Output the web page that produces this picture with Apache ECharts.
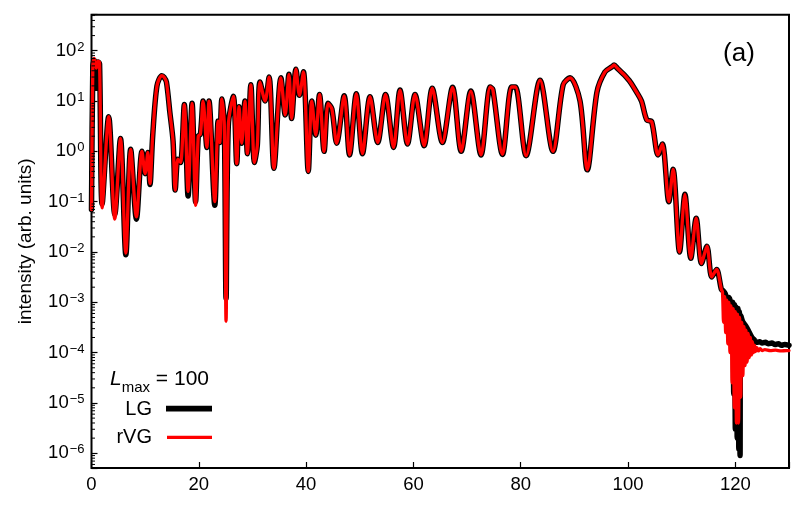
<!DOCTYPE html>
<html>
<head>
<meta charset="utf-8">
<script src="https://cdn.jsdelivr.net/npm/echarts@6/dist/echarts.min.js"></script>
<style>
html,body{margin:0;padding:0;background:#fff;}
#chart{width:805px;height:510px;}
</style>
</head>
<body>
<div id="chart"></div>
<script>
// ---- data ----
const xTicks = [0, 20, 40, 60, 80, 100, 120];
const yTickExponents = [-6, -5, -4, -3, -2, -1, 0, 1, 2];

const xMain = [0, 0.25, 0.5, 0.9, 1.2, 1.5, 1.98, 3.2, 4.34, 5.4, 6.4, 7.3, 8.37, 9.4, 10.0, 10.5, 10.9, 11.4, 12.2, 13.1, 13.5, 13.96, 14.6, 15.2, 15.6, 16.1, 16.6, 17.3, 18.0, 18.75, 19.4, 19.9, 20.3, 20.8, 21.5, 21.9, 22.98, 23.6, 23.9, 24.3, 24.75, 25.08, 25.5, 26.45, 27.07, 27.5, 28.0, 28.6, 29.05, 29.7, 30.36, 30.9, 31.4, 32.35, 33.1, 34.0, 35.3, 36.1, 36.8, 37.3, 38.1, 38.75, 39.5, 40.4, 41.05, 41.8, 42.5, 43.35, 44.1, 44.8, 45.7, 47.1, 48.1, 49.35, 50.5, 51.9, 53.35, 54.8, 56.3, 57.5, 58.9, 60.3, 62.0, 63.5, 65.4, 67.3, 68.9, 70.7, 72.6, 74.3, 74.8, 76.6, 78.3, 79.0, 81.0, 83.6, 86.0, 87.9, 89.2, 91.05, 92.4, 94.2, 95.7, 97.0, 97.4, 98.0, 98.5, 99.3, 100.4, 101.6, 102.5, 103.5, 104.4, 105.6, 106.4, 107.6, 108.4, 109.6, 110.6, 111.7, 112.7, 113.7, 114.7, 115.6, 116.5, 117.4];

const lgMain = [0.07, 50, 65, 18, 60, 55, 0.09, 4.9, 0.055, 1.8, 0.0088, 1.1, 0.045, 1.0, 0.36, 0.95, 0.22, 2.0, 20, 32, 30, 24, 6, 1.6, 0.17, 0.7, 0.6, 8.5, 0.13, 9, 0.1, 2.0, 2.2, 10, 1.2, 10, 0.085, 4, 1.5, 11, 3.5, 0.0012, 3.3, 12.4, 0.57, 7.7, 1.45, 10, 0.9, 21, 0.6, 1.3, 24, 10, 30, 0.46, 29, 5.3, 34, 4.5, 43, 13, 38, 0.4, 10, 2.1, 13.5, 1.0, 9, 7, 1.45, 12.7, 0.85, 14, 0.9, 12.2, 1.5, 13.5, 1.2, 16.5, 1.4, 13.5, 1.3, 18, 1.5, 18.7, 1.0, 15.8, 0.85, 19, 17, 0.87, 19, 19, 0.82, 26, 1.0, 21, 29, 10, 0.43, 15, 38, 48, 52, 45, 40, 33, 24, 15, 10, 4.2, 3.9, 0.85, 1.4, 0.1, 0.44, 0.01, 0.14, 0.0075, 0.047, 0.0059, 0.013, 0.0032, 0.0045, 0.0018];

const rvgMain = [0.07, 50, 70, 45, 62, 58, 0.075, 4.9, 0.045, 1.8, 0.0095, 1.1, 0.05, 1.0, 0.36, 0.95, 0.23, 2.0, 20, 32, 30, 24, 6, 1.6, 0.17, 0.7, 0.6, 8.5, 0.16, 9, 0.085, 2.0, 2.2, 10, 1.2, 10, 0.1, 4, 1.5, 11, 3.5, 0.00042, 3.3, 12.4, 0.57, 7.7, 1.45, 10, 0.9, 21, 0.6, 1.3, 24, 10, 30, 0.46, 29, 5.3, 34, 4.5, 43, 13, 38, 0.4, 10, 2.1, 13.5, 1.0, 9, 7, 1.45, 12.7, 0.85, 14, 0.9, 12.2, 1.5, 13.5, 1.2, 16.5, 1.4, 13.5, 1.3, 18, 1.5, 18.7, 1.0, 15.8, 0.85, 19, 17, 0.87, 19, 19, 0.82, 26, 1.0, 21, 29, 10, 0.43, 15, 38, 48, 52, 45, 40, 33, 24, 15, 10, 4.2, 3.9, 0.85, 1.4, 0.1, 0.44, 0.01, 0.14, 0.0075, 0.047, 0.0059, 0.013, 0.0032, 0.0045, 0.0018];

const xLgTail = [117.7, 118.1, 118.4, 118.8, 119.2, 119.5, 119.7, 119.85, 120.0, 120.15, 120.35, 120.5, 120.65, 120.75, 120.88, 121.0, 121.3, 121.6, 122.0, 122.3, 122.7, 123.1, 123.5, 124.0, 124.5, 125.0, 125.6, 126.2, 126.8, 127.4, 128.0, 128.6, 129.2, 130];
const lgTail = [0.0017, 0.0015, 0.0012, 0.00125, 0.001, 0.001, 0.000015, 0.0009, 0.000003, 0.0008, 0.000002, 0.00075, 0.0000012, 0.00065, 0.0000009, 0.00055, 0.00043, 0.00038, 0.00033, 0.00029, 0.00024, 0.0002, 0.00018, 0.00016, 0.000165, 0.000155, 0.00016, 0.00015, 0.000155, 0.000145, 0.00015, 0.00014, 0.000145, 0.00014];

const xRvgTail = [117.6, 117.8, 118.0, 118.2, 118.4, 118.6, 118.8, 119.0, 119.2, 119.4, 119.6, 119.8, 120.0, 120.2, 120.4, 120.6, 120.8, 121.0, 121.2, 121.4, 121.6, 121.8, 122.0, 122.2, 122.4, 122.6, 122.8, 123.0, 123.2, 123.4, 123.6, 123.8, 124.0, 124.3, 124.6, 125.0, 125.5, 126.5, 127.5, 128.5, 129.5, 130];
const rvgTail = [0.0016, 0.0004, 0.0013, 0.00025, 0.0011, 0.00015, 0.001, 0.0001, 0.00085, 0.000025, 0.00075, 0.000008, 0.00065, 0.000004, 0.00058, 0.000004, 0.0005, 0.000013, 0.0004, 0.000035, 0.00033, 0.000055, 0.00028, 0.000065, 0.00024, 0.00008, 0.0002, 0.00009, 0.000165, 0.0001, 0.00014, 0.000105, 0.000125, 0.000108, 0.00012, 0.00011, 0.000115, 0.00011, 0.000112, 0.000108, 0.00011, 0.00011];

const seriesNames = ['LG', 'rVG'];
const seriesColors = ['#000000', '#ff0000'];

// ---- build series data ----
function zip(xs, ys) { return xs.map((x, i) => [x, ys[i]]); }
const lgData = zip(xMain, lgMain).concat(zip(xLgTail, lgTail));
const rvgData = zip(xMain, rvgMain).concat(zip(xRvgTail, rvgTail));

const yMin = 5.1e-7, yMax = 520;
// minor tick values for the log axis (2..9 x 10^n)
const minorVals = [];
for (let n = -7; n <= 2; n++) {
  for (let m = 2; m <= 9; m++) {
    const v = m * Math.pow(10, n);
    if (v > yMin && v < yMax) minorVals.push([0, v]);
  }
}

const FONT = '"Liberation Sans", Arial, Helvetica, sans-serif';
const chart = echarts.init(document.getElementById('chart'), null, { renderer: 'canvas' });

chart.setOption({
  animation: false,
  backgroundColor: '#ffffff',
  grid: {
    left: 91.5, right: 16, top: 14.7, bottom: 42,
    show: true, borderColor: '#000', borderWidth: 2, backgroundColor: 'transparent'
  },
  xAxis: {
    type: 'value', min: 0, max: 130, interval: 20,
    axisLine: { show: false },
    splitLine: { show: false },
    axisTick: { inside: true, length: 6, lineStyle: { color: '#000', width: 1.2 } },
    axisLabel: {
      color: '#000', fontFamily: FONT, fontSize: 18.5, margin: 7,
      formatter: function (v) { return xTicks.indexOf(v) >= 0 ? String(v) : ''; }
    }
  },
  yAxis: {
    type: 'log', logBase: 10, min: yMin, max: yMax, splitNumber: 9,
    axisLine: { show: false },
    splitLine: { show: false },
    axisTick: { inside: true, length: 6, lineStyle: { color: '#000', width: 1.2 } },
    name: 'intensity (arb. units)',
    nameLocation: 'middle', nameGap: 56,
    nameTextStyle: { color: '#000', fontFamily: FONT, fontSize: 19 },
    axisLabel: {
      color: '#000', fontFamily: FONT, margin: 7,
      formatter: function (v) {
        const l = Math.log10(v);
        const n = Math.round(l);
        if (Math.abs(l - n) > 1e-6 || yTickExponents.indexOf(n) < 0) return '';
        return '{b|10}{s|' + (n < 0 ? '\u2212' + (-n) : String(n)) + '}';
      },
      rich: {
        b: { fontFamily: FONT, fontSize: 18.5, color: '#000', lineHeight: 20 },
        s: { fontFamily: FONT, fontSize: 13, color: '#000', verticalAlign: 'top', lineHeight: 13, padding: [0, 0, 0, 1] }
      }
    }
  },
  series: [
    {
      name: seriesNames[0], type: 'line', data: lgData, symbol: 'none',
      smooth: 0.3, lineStyle: { color: seriesColors[0], width: 5.5, join: 'round', cap: 'round' },
      z: 2
    },
    {
      name: seriesNames[1], type: 'line', data: rvgData, symbol: 'none',
      smooth: 0.3, lineStyle: { color: seriesColors[1], width: 3.3, join: 'round', cap: 'round' },
      z: 3
    },
    {
      type: 'custom', silent: true, data: minorVals, z: 5, clip: false,
      renderItem: function (params, api) {
        const p = api.coord([api.value(0), api.value(1)]);
        return {
          type: 'line',
          shape: { x1: p[0], y1: p[1], x2: p[0] + 3.5, y2: p[1] },
          style: { stroke: '#000', lineWidth: 1 }
        };
      }
    }
  ],
  graphic: [
    { type: 'text', style: { x: 739, y: 54, text: '(a)', align: 'center', verticalAlign: 'middle', fontFamily: FONT, fontSize: 26, fill: '#000' } },
    { type: 'text', style: {
        x: 110, y: 379, verticalAlign: 'middle',
        text: '{i|L}{sub|max}{n| = 100}',
        rich: {
          i: { fontFamily: FONT, fontSize: 21, fontStyle: 'italic', fill: '#000', lineHeight: 24 },
          sub: { fontFamily: FONT, fontSize: 15, fill: '#000', verticalAlign: 'bottom', lineHeight: 14, padding: [0, 0, -4, 0] },
          n: { fontFamily: FONT, fontSize: 21, fill: '#000', lineHeight: 24 }
        }
    } },
    { type: 'text', style: { x: 152, y: 409, text: seriesNames[0], align: 'right', verticalAlign: 'middle', fontFamily: FONT, fontSize: 20, fill: '#000' } },
    { type: 'line', shape: { x1: 166, y1: 408.7, x2: 212, y2: 408.7 }, style: { stroke: seriesColors[0], lineWidth: 5.7 } },
    { type: 'text', style: { x: 152, y: 437, text: seriesNames[1], align: 'right', verticalAlign: 'middle', fontFamily: FONT, fontSize: 20, fill: '#000' } },
    { type: 'line', shape: { x1: 167, y1: 437.3, x2: 212, y2: 437.3 }, style: { stroke: seriesColors[1], lineWidth: 3.3 } }
  ]
});
</script>
</body>
</html>
